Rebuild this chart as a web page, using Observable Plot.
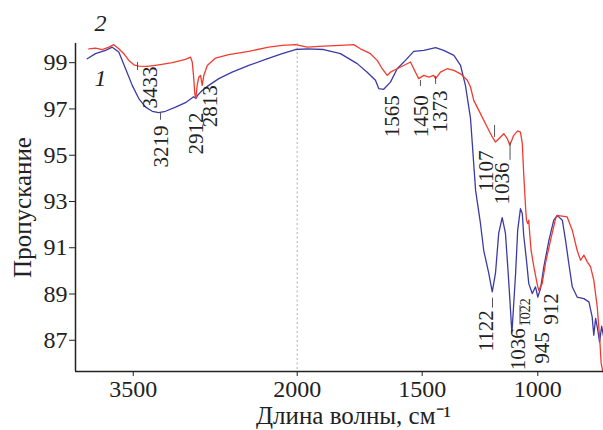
<!DOCTYPE html>
<html>
<head>
<meta charset="utf-8">
<script src="https://cdn.jsdelivr.net/npm/d3@7"></script>
<script src="https://cdn.jsdelivr.net/npm/@observablehq/plot@0.6"></script>
<style>
  html, body { margin: 0; padding: 0; background: #fff; }
  #chart svg { display: block; }
</style>
</head>
<body>
<div id="chart"></div>
<script>
// Curve 1 (blue): wavenumber (cm^-1) and transmittance
const blueWn = [3921,3845,3753,3692,3632,3570,3509,3449,3387,3326,3266,3205,3113,3022,2948,2927,2907,2869,2809,2717,2595,2443,2290,2137,2016,
  1960,1894,1827,1760,1720,1687,1674,1654,1627,1600,1567,1534,1493,1442,1407,1363,1334,1313,1291,1269,1248,1234,1212,1197,1183,1169,1154,1140,1128,1118,1112,1105,1096,1087,1075,1067,1061,1049,1039,1024,1010,1000,988,974,952,931,916,894,880,866,851,830,801,779,765,758,750,742,733,724,716];
const blueT = [99.17,99.39,99.53,99.67,99.46,98.74,98.02,97.45,97.08,96.90,96.84,96.90,97.08,97.27,97.53,97.46,97.61,97.80,98.02,98.31,98.59,98.88,99.14,99.39,99.57,
  99.60,99.57,99.39,98.96,98.59,98.24,97.88,97.85,98.16,98.74,99.10,99.49,99.53,99.65,99.53,99.32,98.88,98.02,96.59,93.48,92.05,90.89,89.89,89.09,89.90,91.63,92.30,91.63,89.90,88.30,87.31,88.44,89.90,91.76,92.69,92.48,91.54,90.46,89.45,89.02,89.31,88.87,89.24,90.17,91.32,92.19,92.40,92.19,91.32,90.32,89.31,88.87,88.80,88.66,88.01,87.22,87.95,87.52,86.92,87.61,87.18];

// Curve 2 (red)
const redWn = [3906,3845,3783,3723,3677,3632,3586,3540,3494,3449,3372,3266,3143,3022,2976,2960,2946,2937,2927,2915,2900,2884,2869,2854,2823,2747,2626,2443,2260,2137,2016,
  1960,1894,1827,1774,1747,1707,1680,1660,1640,1627,1600,1574,1547,1527,1514,1493,1471,1450,1442,1421,1392,1363,1334,1305,1291,1277,1248,1219,1197,1183,1161,1147,1132,1121,1104,1087,1075,1067,1061,1053,1049,1043,1039,1035,1029,1017,1003,996,981,967,945,923,916,888,873,851,830,815,801,786,772,758,743,732,726,719];
const redT = [99.60,99.63,99.57,99.67,99.78,99.60,99.39,99.10,98.91,98.85,98.84,98.91,99.00,99.14,99.24,99.03,98.31,97.66,97.45,98.02,98.38,98.45,98.02,98.45,98.88,99.20,99.35,99.49,99.67,99.75,99.78,
  99.67,99.72,99.75,99.78,99.60,99.39,99.10,98.74,98.45,98.59,98.74,98.88,99.03,98.59,98.31,98.45,98.38,98.45,98.31,98.59,98.74,98.67,98.52,98.24,97.95,97.37,96.80,96.22,95.79,95.57,95.79,95.93,95.72,95.43,95.86,96.05,96.00,95.50,94.21,92.76,92.19,92.04,92.19,91.61,90.89,90.17,89.45,89.16,89.45,90.32,91.32,92.26,92.40,92.36,92.33,91.76,90.89,90.46,90.68,90.39,90.17,89.60,88.44,87.00,86.00,85.64];

// Peak annotations: text, label x (cm^-1), label top (transmittance)
const peakText = ["3433","3219","2912","2813","1565","1450","1373","1107","1036","1122","1036","945","912"];
const peakX    = [3342, 3241, 2921, 2793, 1619, 1503, 1421, 1222, 1153, 1222, 1083, 980, 941];
const peakY    = [98.84,96.29,96.85,98.02,97.59,97.59,97.80,95.21,94.69,88.30,87.52,87.35,89.03];
const smallText = ["1022"];
const smallX = [1053];
const smallY = [88.82];

// Leader ticks: x, from, to
const leadX  = [3461, 3250, 1507, 1442, 1187, 1120, 1196, 1077];
const leadY1 = [99.01,96.81,98.23,98.40,96.29,95.56,88.82,88.50];
const leadY2 = [98.66,96.51,97.97,98.06,95.77,94.78,88.39,87.66];

// Curve labels
const curveText = ["2", "1"];
const curveX = [3799, 3799];
const curveY = [100.70, 98.32];

// Axes
const xBreaks = [4028, 2000, 1500, 1000, 716];
const xTicks = [3500, 2000, 1500, 1000];
const yTicks = [87, 89, 91, 93, 95, 97, 99];
const yDomain = [85.65, 99.83];
const xTitle = "Длина волны, см⁻¹";
const yTitle = "Пропускание";

const idx = a => a.map((_, i) => i);

const chart = Plot.plot({
  width: 603,
  height: 430,
  marginLeft: 75,
  marginRight: 0,
  marginTop: 43,
  marginBottom: 59,
  style: { fontFamily: "'Liberation Serif', 'Times New Roman', serif", fontSize: "22px", color: "#222", background: "#fff", overflow: "visible" },
  x: { type: "linear", domain: xBreaks, range: [75, 296.7, 421.7, 537.3, 603] },
  y: { domain: yDomain },
  marks: [
    Plot.ruleX([2000], { stroke: "#bbb", strokeDasharray: "2,2.5", strokeWidth: 1.2 }),
    Plot.line(idx(blueWn), { x: i => blueWn[i], y: i => blueT[i], stroke: "#3b3ba6", strokeWidth: 1.3 }),
    Plot.line(idx(redWn), { x: i => redWn[i], y: i => redT[i], stroke: "#f23b30", strokeWidth: 1.3 }),
    Plot.ruleX(idx(leadX), { x: i => leadX[i], y1: i => leadY1[i], y2: i => leadY2[i], stroke: "#555", strokeWidth: 1 }),
    Plot.text(idx(peakText), { x: i => peakX[i], y: i => peakY[i], text: i => peakText[i], rotate: -90, textAnchor: "end", lineAnchor: "middle", fontSize: 21, fill: "#222" }),
    Plot.text(idx(smallText), { x: i => smallX[i], y: i => smallY[i], text: i => smallText[i], rotate: -90, textAnchor: "end", lineAnchor: "middle", fontSize: 14, fill: "#222" }),
    Plot.text(idx(curveText), { x: i => curveX[i], y: i => curveY[i], text: i => curveText[i], fontStyle: "italic", fontSize: 24, fill: "#222" }),
    Plot.axisY({ ticks: yTicks, tickSize: 6, tickPadding: 2, fontSize: 24, tickFormat: d => String(d), label: null }),
    Plot.axisX({ ticks: xTicks, tickSize: 5, tickPadding: 3, fontSize: 24, tickFormat: d => String(d), label: null }),
    Plot.text([yTitle], { frameAnchor: "left", rotate: -90, dx: -53, dy: 0, lineAnchor: "middle", textAnchor: "middle", fontSize: 25, fill: "#222" }),
    Plot.text([xTitle], { frameAnchor: "bottom", dx: 14, dy: 44, lineAnchor: "middle", textAnchor: "middle", fontSize: 25, fill: "#222" }),
    Plot.ruleX([xBreaks[0]], { stroke: "#222", strokeWidth: 1.5 }),
    Plot.ruleY([yDomain[0]], { stroke: "#222", strokeWidth: 1.5 })
  ]
});
document.getElementById("chart").appendChild(chart);
</script>
</body>
</html>
